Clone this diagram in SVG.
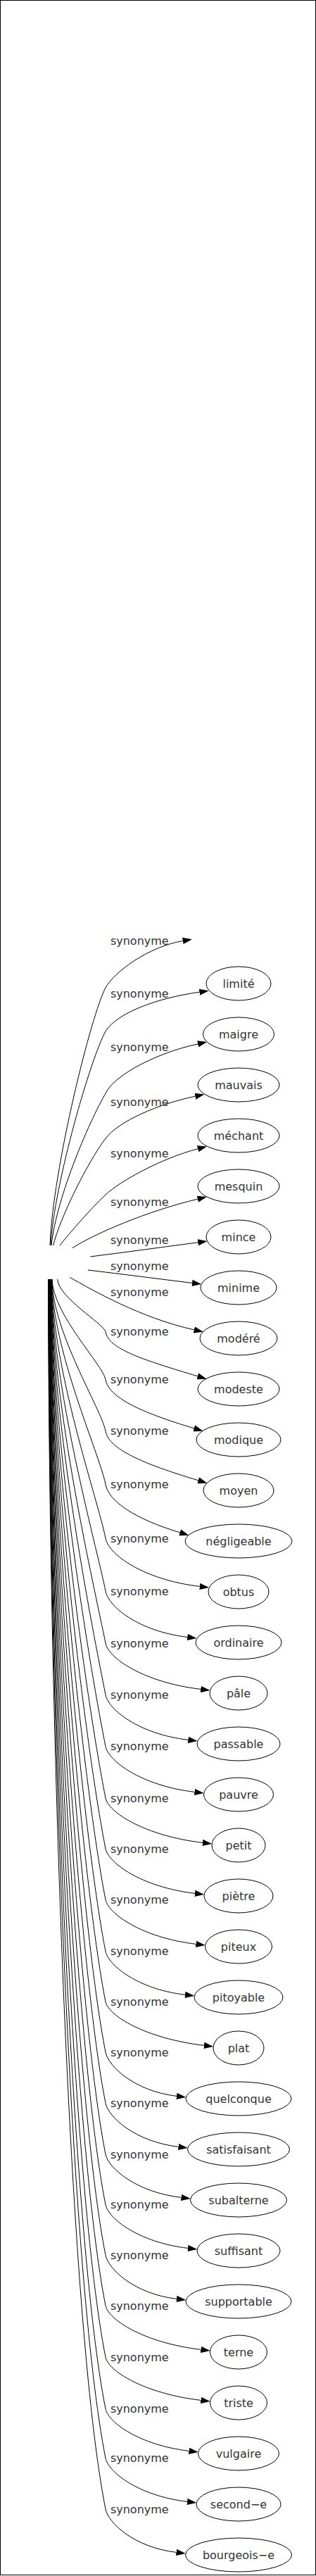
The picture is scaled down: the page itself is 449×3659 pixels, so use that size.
<svg xmlns="http://www.w3.org/2000/svg" width="449" height="3659" viewBox="0 0 449 3659">
<style>
.edge path{fill:none;stroke:#000;stroke-width:1;marker-end:url(#arr)}
.lbl{font-family:"DejaVu Sans",sans-serif;font-size:16px;fill:#333;text-anchor:middle}
.node ellipse{fill:none;stroke:#000;stroke-width:1}
</style>
<defs>
<marker id="arr" markerUnits="userSpaceOnUse" markerWidth="13.33" markerHeight="9.33" viewBox="0 0 13.33 9.33" refX="0" refY="4.665" orient="auto"><path d="M0,0 L13.33,4.665 L0,9.33 z" fill="#000"/></marker>
</defs>
<rect x="0.5" y="0.5" width="448" height="3657" fill="#fff" stroke="#000" stroke-width="1"/>
<g id="connectors">
<g class="edge" id="e0"><path d="M71,1769 C75,1660 130,1440 150,1403 C162,1381 210,1345 259.8,1336.4"/><text class="lbl" x="198.3" y="1342.2">synonyme</text></g>
<g class="edge" id="e1"><path d="M72,1769 C77,1680 130,1500 150,1465 C165,1440 220,1418 283.4,1409.2"/><text class="lbl" x="198.3" y="1417.2">synonyme</text></g>
<g class="edge" id="e2"><path d="M73,1769 C80,1700 130,1585 153,1548 C166,1527 220,1496 281.1,1482.9"/><text class="lbl" x="198.3" y="1492.8">synonyme</text></g>
<g class="edge" id="e3"><path d="M75.7,1769 C85,1730 125,1650 150,1617 C168,1593 225,1568 277.3,1557.2"/><text class="lbl" x="198.3" y="1570.5">synonyme</text></g>
<g class="edge" id="e4"><path d="M85,1769 C100,1750 128,1718 150,1697 C170,1678 230,1645 281.1,1631.8"/><text class="lbl" x="198.3" y="1643.8">synonyme</text></g>
<g class="edge" id="e5"><path d="M102.7,1772.7 C135,1752 210,1720 280.8,1703.2"/><text class="lbl" x="198.3" y="1712.5">synonyme</text></g>
<g class="edge" id="e6"><path d="M128.3,1785 C180,1778.5 230,1771.5 281.3,1764.8"/><text class="lbl" x="198.3" y="1767.2">synonyme</text></g>
<g class="edge" id="e7"><path d="M125,1804 C175,1810 225,1816.5 273,1822.4"/><text class="lbl" x="198.3" y="1803.8">synonyme</text></g>
<g class="edge" id="e8"><path d="M99.3,1814.3 C130,1832 200,1872 275.8,1888.9"/><text class="lbl" x="198.3" y="1840.5">synonyme</text></g>
<g class="edge" id="e9"><path d="M81.7,1817 C82.7,1843.1 147.8,1880.5 150,1891.7 C154,1916.1 202.3,1931.2 280.8,1954.8"/><text class="lbl" x="198.3" y="1897.2">synonyme</text></g>
<g class="edge" id="e10"><path d="M74,1817 C75,1866.8 145.7,1938 150,1959.3 C154,1985 200.3,2006.2 275.7,2028.8"/><text class="lbl" x="198.3" y="1964.8">synonyme</text></g>
<g class="edge" id="e11"><path d="M73.75,1817 C74.75,1892.5 143.5,2000.3 150,2032.7 C154,2058 202.7,2079.1 281.7,2102.8"/><text class="lbl" x="198.3" y="2038.2">synonyme</text></g>
<g class="edge" id="e12"><path d="M73.5,1817 C74.5,1919 141.3,2064.6 150,2108.3 C154,2132.5 192.2,2157.8 255.6,2176.8"/><text class="lbl" x="198.3" y="2113.8">synonyme</text></g>
<g class="edge" id="e13"><path d="M73.25,1817 C74.25,1945.8 139,2129.8 150,2185 C154,2207.8 203.5,2243.8 283.8,2253.4"/><text class="lbl" x="198.3" y="2190.5">synonyme</text></g>
<g class="edge" id="e14"><path d="M73,1817 C74,1972 136.7,2193.6 150,2260 C154,2281.9 196.5,2317 266.2,2325.4"/><text class="lbl" x="198.3" y="2265.5">synonyme</text></g>
<g class="edge" id="e15"><path d="M72.75,1817 C73.75,1998 134.5,2256.5 150,2334 C154,2355.3 204.1,2389.7 285.2,2399.4"/><text class="lbl" x="198.3" y="2339.5">synonyme</text></g>
<g class="edge" id="e16"><path d="M72.5,1817 C73.5,2023.6 132.3,2318.8 150,2407.3 C154,2428.2 197,2463 267.4,2471.4"/><text class="lbl" x="198.3" y="2412.8">synonyme</text></g>
<g class="edge" id="e17"><path d="M72.25,1817 C73.25,2049.3 130.1,2381.1 150,2480.7 C154,2501.2 200.6,2536.3 276.4,2545.4"/><text class="lbl" x="198.3" y="2486.2">synonyme</text></g>
<g class="edge" id="e18"><path d="M72,1817 C73,2075 127.9,2443.5 150,2554 C154,2574.1 205.2,2607.5 287.9,2617.4"/><text class="lbl" x="198.3" y="2559.5">synonyme</text></g>
<g class="edge" id="e19"><path d="M71.75,1817 C72.75,2100.2 125.7,2504.6 150,2626 C154,2646.1 200.8,2680.3 276.9,2689.4"/><text class="lbl" x="198.3" y="2631.5">synonyme</text></g>
<g class="edge" id="e20"><path d="M71.5,1817 C72.5,2125.5 123.6,2566.1 150,2698.3 C154,2718.3 201.4,2752.2 278.4,2761.4"/><text class="lbl" x="198.3" y="2703.8">synonyme</text></g>
<g class="edge" id="e21"><path d="M71.25,1817 C72.25,2151.1 121.4,2628.5 150,2771.7 C154,2791.3 195.2,2825.3 263,2833.4"/><text class="lbl" x="198.3" y="2777.2">synonyme</text></g>
<g class="edge" id="e22"><path d="M71,1817 C72,2176.2 119.2,2689.4 150,2843.3 C154,2863 206,2895.3 289.9,2905.4"/><text class="lbl" x="198.3" y="2848.8">synonyme</text></g>
<g class="edge" id="e23"><path d="M70.75,1817 C71.75,2201.3 117.1,2750.3 150,2915 C154,2934.8 190.4,2970.1 251,2977.4"/><text class="lbl" x="198.3" y="2920.5">synonyme</text></g>
<g class="edge" id="e24"><path d="M70.5,1817 C71.5,2226.6 114.9,2811.8 150,2987.3 C154,3007 191.4,3041.9 253.5,3049.4"/><text class="lbl" x="198.3" y="2992.8">synonyme</text></g>
<g class="edge" id="e25"><path d="M70.25,1817 C71.25,2252 112.7,2873.6 150,3060 C154,3079.5 193,3113.7 257.5,3121.4"/><text class="lbl" x="198.3" y="3065.5">synonyme</text></g>
<g class="edge" id="e26"><path d="M70,1817 C71,2277.1 110.6,2934.5 150,3131.7 C154,3151.3 196.8,3185 267,3193.4"/><text class="lbl" x="198.3" y="3137.2">synonyme</text></g>
<g class="edge" id="e27"><path d="M69.75,1817 C70.75,2302.2 108.4,2995.4 150,3203.3 C154,3223 190.4,3258.1 251,3265.4"/><text class="lbl" x="198.3" y="3208.8">synonyme</text></g>
<g class="edge" id="e28"><path d="M69.5,1817 C70.5,2327.3 106.3,3056.3 150,3275 C154,3294.8 204.2,3327.7 285.4,3337.4"/><text class="lbl" x="198.3" y="3280.5">synonyme</text></g>
<g class="edge" id="e29"><path d="M69.25,1817 C70.25,2353 104.1,3118.6 150,3348.3 C154,3367.7 204.2,3399.7 285.4,3409.4"/><text class="lbl" x="198.3" y="3353.8">synonyme</text></g>
<g class="edge" id="e30"><path d="M69,1817 C70,2378.6 101.9,3181 150,3421.7 C154,3440.7 197.4,3472.9 268.5,3481.4"/><text class="lbl" x="198.3" y="3427.2">synonyme</text></g>
<g class="edge" id="e31"><path d="M68.75,1817 C69.75,2403.1 99.8,3240.5 150,3491.7 C154,3511.3 196.4,3545 266,3553.4"/><text class="lbl" x="198.3" y="3497.2">synonyme</text></g>
<g class="edge" id="e32"><path d="M68.5,1817 C69.5,2428.5 97.6,3301.9 150,3564 C154,3583.5 190.2,3618.2 250.5,3625.4"/><text class="lbl" x="198.3" y="3569.5">synonyme</text></g>
</g>
<g id="nodes">
<g class="node" id="n1"><ellipse cx="339" cy="1397" rx="46" ry="24"/><text class="lbl" x="339" y="1403">limité</text></g>
<g class="node" id="n2"><ellipse cx="339" cy="1469" rx="50.5" ry="24"/><text class="lbl" x="339" y="1475">maigre</text></g>
<g class="node" id="n3"><ellipse cx="339" cy="1541" rx="58" ry="24"/><text class="lbl" x="339" y="1547">mauvais</text></g>
<g class="node" id="n4"><ellipse cx="339" cy="1613" rx="58" ry="24"/><text class="lbl" x="339" y="1619">méchant</text></g>
<g class="node" id="n5"><ellipse cx="339" cy="1685" rx="58" ry="24"/><text class="lbl" x="339" y="1691">mesquin</text></g>
<g class="node" id="n6"><ellipse cx="339" cy="1757" rx="46" ry="24"/><text class="lbl" x="339" y="1763">mince</text></g>
<g class="node" id="n7"><ellipse cx="339" cy="1829" rx="54" ry="24"/><text class="lbl" x="339" y="1835">minime</text></g>
<g class="node" id="n8"><ellipse cx="339" cy="1901" rx="55" ry="24"/><text class="lbl" x="339" y="1907">modéré</text></g>
<g class="node" id="n9"><ellipse cx="339" cy="1973" rx="58" ry="24"/><text class="lbl" x="339" y="1979">modeste</text></g>
<g class="node" id="n10"><ellipse cx="339" cy="2045" rx="60" ry="24"/><text class="lbl" x="339" y="2051">modique</text></g>
<g class="node" id="n11"><ellipse cx="339" cy="2117" rx="50" ry="24"/><text class="lbl" x="339" y="2123">moyen</text></g>
<g class="node" id="n12"><ellipse cx="339" cy="2189" rx="76" ry="24"/><text class="lbl" x="339" y="2195">négligeable</text></g>
<g class="node" id="n13"><ellipse cx="339" cy="2261" rx="43" ry="24"/><text class="lbl" x="339" y="2267">obtus</text></g>
<g class="node" id="n14"><ellipse cx="339" cy="2333" rx="61" ry="24"/><text class="lbl" x="339" y="2339">ordinaire</text></g>
<g class="node" id="n15"><ellipse cx="339" cy="2405" rx="41" ry="24"/><text class="lbl" x="339" y="2411">pâle</text></g>
<g class="node" id="n16"><ellipse cx="339" cy="2477" rx="59" ry="24"/><text class="lbl" x="339" y="2483">passable</text></g>
<g class="node" id="n17"><ellipse cx="339" cy="2549" rx="49.5" ry="24"/><text class="lbl" x="339" y="2555">pauvre</text></g>
<g class="node" id="n18"><ellipse cx="339" cy="2621" rx="38" ry="24"/><text class="lbl" x="339" y="2627">petit</text></g>
<g class="node" id="n19"><ellipse cx="339" cy="2693" rx="49" ry="24"/><text class="lbl" x="339" y="2699">piètre</text></g>
<g class="node" id="n20"><ellipse cx="339" cy="2765" rx="47.5" ry="24"/><text class="lbl" x="339" y="2771">piteux</text></g>
<g class="node" id="n21"><ellipse cx="339" cy="2837" rx="63" ry="24"/><text class="lbl" x="339" y="2843">pitoyable</text></g>
<g class="node" id="n22"><ellipse cx="339" cy="2909" rx="36" ry="24"/><text class="lbl" x="339" y="2915">plat</text></g>
<g class="node" id="n23"><ellipse cx="339" cy="2981" rx="75" ry="24"/><text class="lbl" x="339" y="2987">quelconque</text></g>
<g class="node" id="n24"><ellipse cx="339" cy="3053" rx="72.5" ry="24"/><text class="lbl" x="339" y="3059">satisfaisant</text></g>
<g class="node" id="n25"><ellipse cx="339" cy="3125" rx="68.5" ry="24"/><text class="lbl" x="339" y="3131">subalterne</text></g>
<g class="node" id="n26"><ellipse cx="339" cy="3197" rx="59" ry="24"/><text class="lbl" x="339" y="3203">suffisant</text></g>
<g class="node" id="n27"><ellipse cx="339" cy="3269" rx="75" ry="24"/><text class="lbl" x="339" y="3275">supportable</text></g>
<g class="node" id="n28"><ellipse cx="339" cy="3341" rx="40.5" ry="24"/><text class="lbl" x="339" y="3347">terne</text></g>
<g class="node" id="n29"><ellipse cx="339" cy="3413" rx="40.5" ry="24"/><text class="lbl" x="339" y="3419">triste</text></g>
<g class="node" id="n30"><ellipse cx="339" cy="3485" rx="57.5" ry="24"/><text class="lbl" x="339" y="3491">vulgaire</text></g>
<g class="node" id="n31"><ellipse cx="339" cy="3557" rx="60" ry="24"/><text class="lbl" x="339" y="3563">second−e</text></g>
<g class="node" id="n32"><ellipse cx="339" cy="3629" rx="75.5" ry="24"/><text class="lbl" x="339" y="3635">bourgeois−e</text></g>
</g>
</svg>
